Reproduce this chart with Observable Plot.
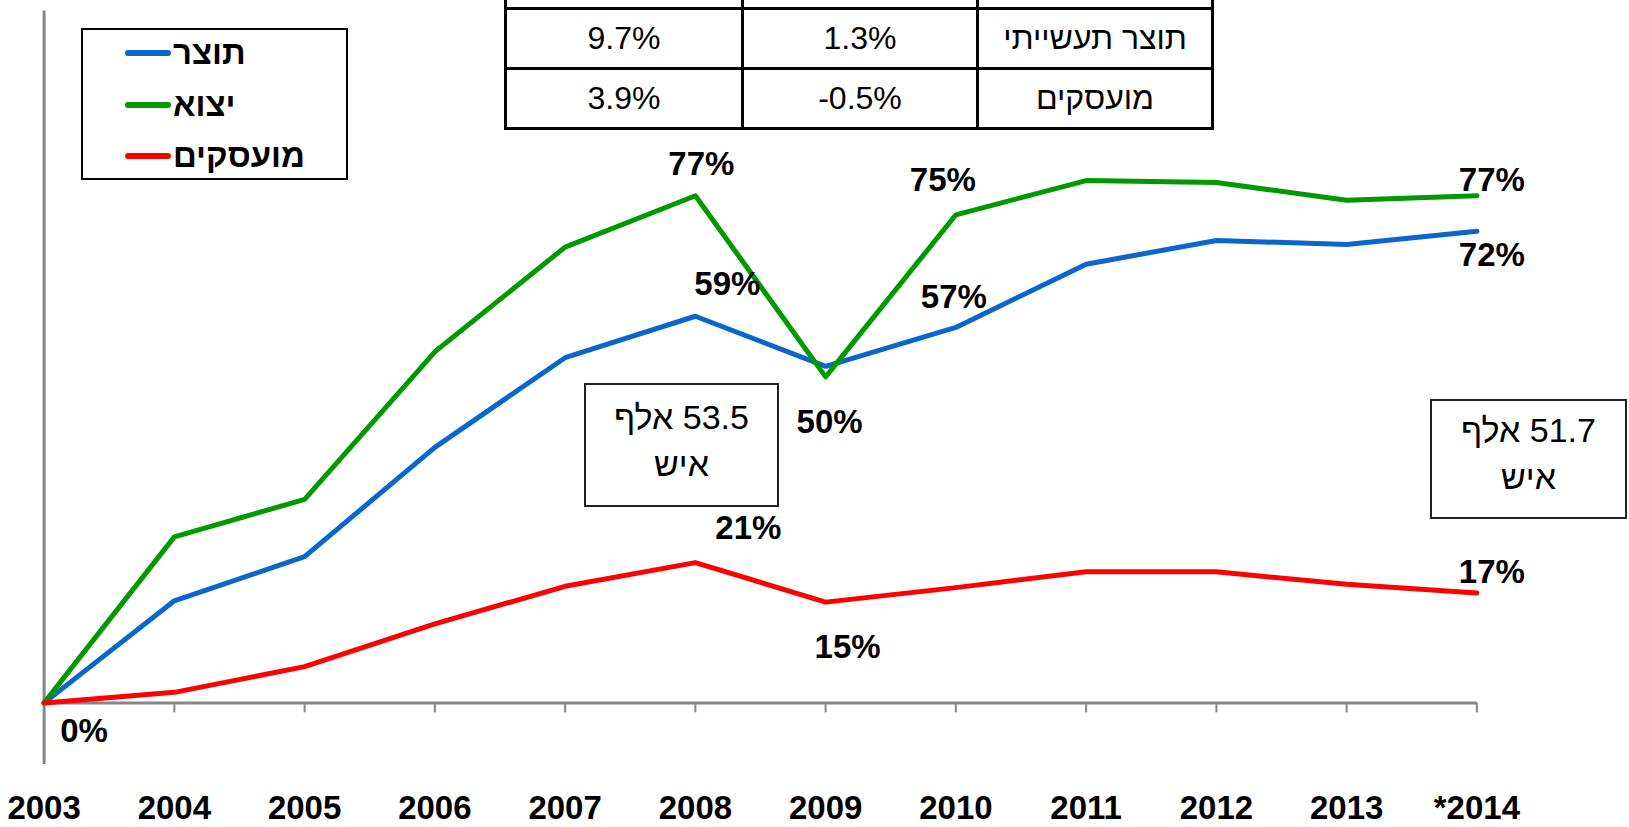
<!DOCTYPE html>
<html>
<head>
<meta charset="utf-8">
<script src="https://cdn.jsdelivr.net/npm/d3@7"></script>
<script src="https://cdn.jsdelivr.net/npm/@observablehq/plot@0.6"></script>
<style>
  html, body { margin: 0; padding: 0; background: #fff; }
  #wrap { position: relative; width: 1629px; height: 827px; overflow: hidden; font-family: "Liberation Sans", Arial, sans-serif; }
  #chart { position: absolute; left: 0; top: 0; }
  .legend { position: absolute; left: 81px; top: 28px; width: 267px; height: 152px; border: 2px solid #000; box-sizing: border-box; background: #fff; }
  .legend .item { position: absolute; left: 42px; height: 34px; display: flex; align-items: center; }
  .legend .sw { width: 46px; height: 6px; border-radius: 3px; }
  .legend .lab { font-weight: bold; font-size: 33px; margin-left: 2px; direction: rtl; line-height: 34px; }
  table.stats { position: absolute; left: 504px; top: -5px; border-collapse: collapse; font-size: 32px; }
  table.stats td { border: 3px solid #000; text-align: center; padding: 0; }
  table.stats tr.hdr td { height: 9px; }
  table.stats tr.row td { height: 57px; }
  .note { position: absolute; border: 2px solid #222; box-sizing: border-box; background: #fff; font-size: 34px; text-align: center; direction: rtl; line-height: 47px; }
</style>
</head>
<body>
<div id="wrap">
  <div id="chart"></div>
</div>
<script>
// ---- data ----
const years = [2003, 2004, 2005, 2006, 2007, 2008, 2009, 2010, 2011, 2012, 2013, 2014];
const yearLabels = ["2003", "2004", "2005", "2006", "2007", "2008", "2009", "2010", "2011", "2012", "2013", "*2014"];
const seriesNames = ["תוצר", "יצוא", "מועסקים"];
const seriesColors = ["#0a66cc", "#009900", "#ff0000"];
const outputValues = [0, 15.5, 22.2, 38.8, 52.4, 58.7, 51.1, 57.0, 66.6, 70.2, 69.6, 71.6];
const exportValues = [0, 25.2, 30.9, 53.3, 69.2, 77.0, 49.5, 74.1, 79.3, 79.0, 76.3, 77.0];
const employedValues = [0, 1.6, 5.5, 12.0, 17.7, 21.3, 15.3, 17.5, 19.9, 19.9, 18.0, 16.7];

// point labels: series index, year, text
const labelSeries = [0, 1, 0, 1, 2, 2, 1, 0, 1, 0, 2];
const labelYears  = [2003, 2008, 2008, 2009, 2008, 2009, 2010, 2010, 2014, 2014, 2014];
const labelTexts  = ["0%", "77%", "59%", "50%", "21%", "15%", "75%", "57%", "77%", "72%", "17%"];

// table
const tableColumnsLeft = ["9.7%", "3.9%"];
const tableColumnsMid = ["1.3%", "-0.5%"];
const tableRowNames = ["תוצר תעשייתי", "מועסקים"];

// notes
const noteTexts = [["53.5 אלף", "איש"], ["51.7 אלף", "איש"]];

// ---- build ----
const seriesValues = [outputValues, exportValues, employedValues];
const rows = [];
seriesNames.forEach((s, si) => years.forEach((yr, i) => rows.push({series: s, year: yr, value: seriesValues[si][i]})));

const labels = labelTexts.map((t, i) => ({
  year: labelYears[i],
  value: seriesValues[labelSeries[i]][years.indexOf(labelYears[i])],
  text: t
}));
// visual offsets of each label from its point (px)
const labelOffsets = [[40, 29], [6, -31], [32, -32], [4, 46], [53, -34], [22, 45], [-13, -34], [-2, -30], [15, -15], [15, 24], [15, -20]];

const W = 1629, H = 827;
const chart = Plot.plot({
  width: W, height: H,
  marginTop: 43.7, marginBottom: 124.6, marginLeft: 43.6, marginRight: 152.6,
  style: {fontFamily: '"Liberation Sans", Arial, sans-serif', overflow: "visible", background: "transparent"},
  x: {domain: [2003, 2014], axis: null},
  y: {domain: [0, 100], axis: null},
  color: {domain: seriesNames, range: seriesColors},
  marks: [
    Plot.ruleX([2003], {y1: -9.35, y2: 105.05, stroke: "#868686", strokeWidth: 3}),
    Plot.ruleX(years.slice(1), {y1: 0, y2: 0, insetBottom: -10, stroke: "#868686", strokeWidth: 2}),
    Plot.ruleY([0], {x1: 2003, x2: 2014, stroke: "#868686", strokeWidth: 3}),
    Plot.line(rows, {x: "year", y: "value", z: "series", stroke: "series", strokeWidth: 5, strokeLinejoin: "round", strokeLinecap: "round"}),
    Plot.text(years, {x: d => d, y: 0, text: (d, i) => yearLabels[i], dy: 106, fontSize: 33, fontWeight: "bold", fill: "black", textAnchor: "middle"}),
    ...labels.map((l, i) => Plot.text([l], {x: "year", y: "value", text: "text", dx: labelOffsets[i][0], dy: labelOffsets[i][1],
      fontSize: 33, fontWeight: "bold", fill: "black", textAnchor: "middle"}))
  ]
});
document.getElementById("chart").appendChild(chart);

const wrap = document.getElementById("wrap");
// legend
const legend = document.createElement("div");
legend.className = "legend";
seriesNames.forEach((s, i) => {
  const it = document.createElement("div");
  it.className = "item";
  it.style.top = (6 + i * 51.5) + "px";
  const sw = document.createElement("div");
  sw.className = "sw"; sw.style.background = seriesColors[i];
  const lb = document.createElement("span");
  lb.className = "lab"; lb.textContent = s;
  it.appendChild(sw); it.appendChild(lb);
  legend.appendChild(it);
});
wrap.appendChild(legend);

// table
const tbl = document.createElement("table");
tbl.className = "stats";
const colW = [234, 232, 232];
const hdr = document.createElement("tr"); hdr.className = "hdr";
colW.forEach(w => { const td = document.createElement("td"); td.style.width = w + "px"; hdr.appendChild(td); });
tbl.appendChild(hdr);
tableRowNames.forEach((name, i) => {
  const tr = document.createElement("tr"); tr.className = "row";
  [tableColumnsLeft[i], tableColumnsMid[i], name].forEach((t, j) => {
    const td = document.createElement("td");
    td.textContent = t;
    td.style.direction = j === 2 ? "rtl" : "ltr";
    td.style.width = colW[j] + "px";
    tr.appendChild(td);
  });
  tbl.appendChild(tr);
});
wrap.appendChild(tbl);

// notes
const notePos = [[584, 383, 195, 124, 9], [1430, 399, 197, 120, 6]];
noteTexts.forEach((lines, i) => {
  const d = document.createElement("div");
  d.className = "note";
  const [l, t, w, h, pt] = notePos[i];
  d.style.left = l + "px"; d.style.top = t + "px"; d.style.width = w + "px"; d.style.height = h + "px";
  d.style.paddingTop = pt + "px";
  d.innerHTML = lines.map(x => `<div>${x}</div>`).join("");
  wrap.appendChild(d);
});
</script>
</body>
</html>
